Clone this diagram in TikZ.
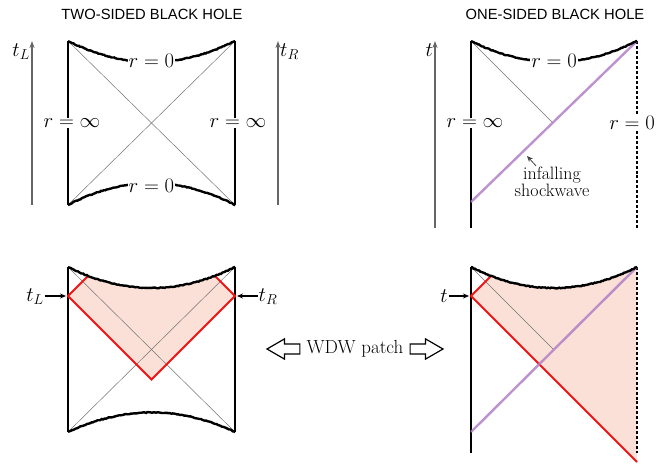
\documentclass[tikz,border=0pt]{standalone}
\usepackage{fontspec}
\newfontfamily\headfont{Liberation Sans}
\usepackage{tikz}
\usetikzlibrary{arrows.meta,positioning,shapes.arrows,decorations.pathmorphing}

\definecolor{horizgray}{gray}{0.45}
\definecolor{timegray}{gray}{0.40}
\definecolor{shockpurple}{rgb}{0.70,0.50,0.78}
\definecolor{wdwred}{rgb}{0.94,0.08,0.08}
\definecolor{wdwbg}{rgb}{0.98,0.88,0.84}

\tikzset{
  bdry/.style={line width=1.7pt, black},
  bdrydash/.style={line width=1.4pt, black, dash pattern=on 3pt off 2pt},
  sing/.style={line width=2.4pt, black, decorate,
               decoration={random steps, segment length=1.5pt, amplitude=0.4pt}},
  nullray/.style={line width=0.5pt, horizgray},
  shockray/.style={line width=2.4pt, shockpurple, opacity=0.85},
  wdwedge/.style={line width=2pt, wdwred, line join=miter},
  timearr/.style={-{Stealth[length=7pt, width=5pt]}, line width=1.6pt, timegray},
  tickarr/.style={-{Stealth[length=6pt, width=5pt]}, line width=1.1pt, black},
  notearr/.style={-{Stealth[length=6pt, width=5pt]}, line width=0.8pt, black!75},
  lbl/.style={font=\fontsize{20}{22}\selectfont, inner sep=1pt},
  onedge/.style={lbl, fill=white},
  heading/.style={font=\headfont\fontsize{14.8}{16}\selectfont},
  hollow/.style={single arrow, draw, line width=1.2pt, fill=white,
                 minimum height=33pt, minimum width=19pt,
                 single arrow head extend=5pt, single arrow tip angle=60,
                 inner xsep=0pt, inner ysep=4.5pt}
}

\begin{document}
\begin{tikzpicture}[x=1bp, y=-1bp]
  \useasboundingbox (0,0) rectangle (657,464);

  % headings
  \node[heading] (htwo) at (152,14) {TWO-SIDED BLACK HOLE};
  \node[heading] (hone) at (555,14) {ONE-SIDED BLACK HOLE};

  % two-sided black hole
  \coordinate (a1) at (68,41);   \coordinate (a2) at (235,41);
  \coordinate (a3) at (68,205);  \coordinate (a4) at (235,205);
  \draw[nullray] (a1) -- (a4);
  \draw[nullray] (a3) -- (a2);
  \draw[bdry] (a1) -- (a3);
  \draw[bdry] (a2) -- (a4);
  \draw[sing] (a1) .. controls +(56,28) and +(-56,28) .. (a2);
  \draw[sing] (a3) .. controls +(56,-29) and +(-56,-29) .. (a4);
  \node[onedge] (a0top) at (151.5,61) {$r=0$};
  \node[onedge] (a0bot) at (151.5,186) {$r=0$};
  \node[onedge] (ainfl) at (72,123) {$r=\infty$};
  \node[onedge] (ainfr) at (238,123) {$r=\infty$};

  \coordinate (tl0) at (32,205);  \coordinate (tl1) at (32,41);
  \coordinate (tr0) at (278,205); \coordinate (tr1) at (278,41);
  \draw[timearr] (tl0) -- (tl1);
  \draw[timearr] (tr0) -- (tr1);
  \node[lbl, below left=2pt and 1pt of tl1] (tLlab) {$t_L$};
  \node[lbl, below right=2pt and 1pt of tr1] (tRlab) {$t_R$};

  % one-sided black hole
  \coordinate (o1) at (471,41);  \coordinate (o2) at (637,41);
  \coordinate (o3) at (471,228); \coordinate (o4) at (637,228);
  \coordinate (oS) at (471,202); \coordinate (oX) at (553,123);
  \draw[nullray] (o1) -- (oX);
  \draw[bdry] (o1) -- (o3);
  \draw[bdrydash] (o2) -- (o4);
  \draw[shockray] (oS) -- (o2);
  \draw[sing] (o1) .. controls +(55,28) and +(-55,28) .. (o2);
  \node[onedge] (o0top) at (554,61) {$r=0$};
  \node[onedge] (oinf) at (475,123) {$r=\infty$};
  \node[onedge, anchor=east] (o0r) at (656,123) {$r=0$};

  \coordinate (t0) at (435,228); \coordinate (t1) at (435,41);
  \draw[timearr] (t0) -- (t1);
  \node[lbl, below left=2pt and 1pt of t1] (tlab) {$t$};

  \node[font=\fontsize{18}{16}\selectfont, align=center, inner sep=1pt]
    (fall) at (552,182) {infalling\\shockwave};
  \coordinate (hit) at (527,156);
  \draw[notearr] ([xshift=-16bp]fall.north) -- (hit);

  % WDW patch, two-sided
  \coordinate (b1) at (68,267);  \coordinate (b2) at (235,267);
  \coordinate (b3) at (68,432);  \coordinate (b4) at (235,432);
  \coordinate (bL) at (68,296);  \coordinate (bR) at (235,296);
  \coordinate (bV) at (151.5,379.5);
  \coordinate (bLup) at (97,267); \coordinate (bRup) at (206,267);
  \begin{scope}
    \clip (58,267) -- (b1) .. controls +(56,28) and +(-56,28) .. (b2)
      -- (245,267) -- (245,440) -- (58,440) -- cycle;
    \fill[wdwbg] (bLup) -- (bL) -- (bV) -- (bR) -- (bRup) -- cycle;
    \draw[nullray] (b1) -- (b4);
    \draw[nullray] (b3) -- (b2);
    \draw[bdry] (b1) -- (b3);
    \draw[bdry] (b2) -- (b4);
    \draw[wdwedge] (bLup) -- (bL) -- (bV) -- (bR) -- (bRup);
  \end{scope}
  \draw[sing] (b1) .. controls +(56,28) and +(-56,28) .. (b2);
  \draw[sing] (b3) .. controls +(56,-26) and +(-56,-26) .. (b4);

  \node[lbl] (tLmark) at (35,297) {$t_L$};
  \node[lbl] (tRmark) at (268,297) {$t_R$};
  \draw[tickarr] (tLmark.east |- bL) -- ([xshift=-2bp]bL);
  \draw[tickarr] (tRmark.west |- bR) -- ([xshift=2bp]bR);

  % WDW patch, one-sided
  \coordinate (c1) at (471,267); \coordinate (c2) at (637,267);
  \coordinate (c3) at (471,453); \coordinate (c4) at (637,453);
  \coordinate (cT) at (471,296); \coordinate (cE) at (637,462);
  \coordinate (cTup) at (500,267);
  \coordinate (cS) at (471,432); \coordinate (cX) at (553,349);
  \begin{scope}
    \clip (461,267) -- (c1) .. controls +(55,28) and +(-55,28) .. (c2)
      -- (647,267) -- (647,470) -- (461,470) -- cycle;
    \fill[wdwbg] (cTup) -- (cT) -- (cE) -- (c2) -- cycle;
    \draw[nullray] (c1) -- (cX);
    \draw[bdry] (c1) -- (c3);
    \draw[bdrydash] (c2) -- (c4);
    \draw[wdwedge] (cTup) -- (cT) -- (cE);
  \end{scope}
  \draw[shockray] (cS) -- (c2);
  \draw[sing] (c1) .. controls +(55,28) and +(-55,28) .. (c2);

  \node[lbl] (tmark) at (444,296) {$t$};
  \draw[tickarr] (tmark.east |- cT) -- ([xshift=-2bp]cT);

  % legend between
  \node[font=\fontsize{19}{21}\selectfont, inner sep=1pt] (wdw) at (355,349) {WDW patch};
  \node[hollow, shape border rotate=180, left=5pt of wdw] (wdwl) {};
  \node[hollow, right=5pt of wdw] (wdwr) {};
\end{tikzpicture}
\end{document}
